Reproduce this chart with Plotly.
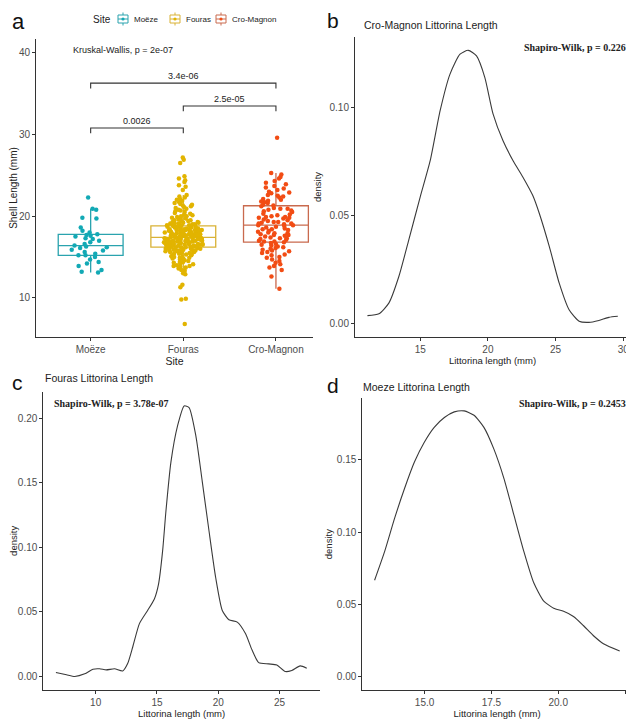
import plotly.graph_objects as go

OFF = 8                     # page body margin of the html page
W, H = 626, 712

# ---------------- data ----------------
sites = ["Moëze", "Fouras", "Cro-Magnon"]
point_colors = ["#12A9B5", "#E2B400", "#F24C14"]
box_colors = ["#2AA3AE", "#D9B236", "#C96A4E"]

moeze_len = [13.1, 13.2, 13.4, 13.9, 14.2, 14.4, 14.7, 15.0, 15.2, 15.2, 15.4, 15.6,
             15.8, 15.9, 16.1, 16.2, 16.3, 16.4, 16.6, 16.8, 17.0, 17.2, 17.3, 17.5,
             17.6, 17.7, 17.8, 18.0, 18.2, 18.6, 19.7, 19.8, 20.8, 20.9, 22.3]

fouras_len = [6.8, 9.8, 9.9, 11.3, 11.6, 12.9,
              13.0, 13.3, 13.4, 13.6, 13.7, 13.8, 13.9, 13.9,
              14.0, 14.1, 14.2, 14.3, 14.4, 14.4, 14.5, 14.6, 14.7, 14.8, 14.8, 14.9, 14.9,
              15.0, 15.0, 15.1, 15.2, 15.2, 15.3, 15.3, 15.4, 15.4, 15.5,
              15.5, 15.6, 15.6, 15.6, 15.7, 15.7, 15.7, 15.8, 15.8, 15.8, 15.9, 15.9, 15.9, 15.9, 16.0, 16.0,
              16.0, 16.1, 16.1, 16.1, 16.2, 16.2, 16.2, 16.2, 16.3, 16.3, 16.3, 16.3, 16.4, 16.4, 16.4, 16.4,
              16.5, 16.5, 16.5, 16.5, 16.5,
              16.6, 16.6, 16.6, 16.6, 16.7, 16.7, 16.7, 16.7, 16.7, 16.8, 16.8, 16.8, 16.8, 16.8,
              16.9, 16.9, 16.9, 16.9, 16.9, 17.0, 17.0, 17.0, 17.0,
              17.1, 17.1, 17.1, 17.1, 17.1, 17.2, 17.2, 17.2, 17.2, 17.2, 17.3, 17.3, 17.3, 17.3, 17.3,
              17.4, 17.4, 17.4, 17.4, 17.4, 17.5, 17.5, 17.5, 17.5,
              17.6, 17.6, 17.6, 17.6, 17.6, 17.7, 17.7, 17.7, 17.7, 17.7, 17.8, 17.8, 17.8, 17.8, 17.8,
              17.9, 17.9, 17.9, 17.9, 18.0, 18.0, 18.0, 18.0,
              18.1, 18.1, 18.1, 18.1, 18.2, 18.2, 18.2, 18.2, 18.3, 18.3, 18.3, 18.3, 18.4, 18.4, 18.4, 18.4,
              18.5, 18.5, 18.5, 18.5,
              18.6, 18.6, 18.6, 18.7, 18.7, 18.7, 18.8, 18.8, 18.8, 18.9, 18.9, 18.9, 19.0, 19.0, 19.0,
              19.1, 19.1, 19.1, 19.2, 19.2, 19.3, 19.3, 19.4, 19.4, 19.5, 19.5,
              19.6, 19.7, 19.7, 19.8, 19.9, 20.0, 20.0,
              20.1, 20.2, 20.3, 20.4, 20.5, 20.6, 20.7, 20.8, 20.9, 21.0,
              21.1, 21.2, 21.3, 21.4, 21.5, 21.6, 21.7, 21.9, 22.0, 22.1, 22.3, 22.4, 22.6,
              23.2, 23.6, 23.8, 24.2, 24.4, 24.6, 24.9, 26.5, 26.9, 27.2]

cromagnon_len = [11.1, 12.6, 13.4, 13.7, 13.9, 14.1, 14.3, 14.5, 14.7, 14.9,
                 15.0, 15.2, 15.3, 15.5, 15.6, 15.7, 15.8, 15.9,
                 16.0, 16.1, 16.2, 16.3, 16.4, 16.5, 16.6, 16.7, 16.8, 16.9, 16.9,
                 17.0, 17.1, 17.2, 17.3, 17.3, 17.4, 17.5, 17.6, 17.7, 17.7, 17.8, 17.9, 17.9,
                 18.0, 18.1, 18.2, 18.3, 18.4, 18.4, 18.5, 18.6, 18.7, 18.8, 18.9, 18.9,
                 19.0, 19.1, 19.1, 19.2, 19.3, 19.3, 19.4, 19.5, 19.6, 19.7, 19.8, 19.8, 19.9, 19.9,
                 20.0, 20.1, 20.2, 20.3, 20.5, 20.6, 20.7, 20.8, 20.9, 20.9,
                 21.0, 21.2, 21.3, 21.4, 21.6, 21.7, 21.8, 21.9,
                 22.0, 22.1, 22.3, 22.4, 22.5, 22.6, 22.8, 22.9,
                 23.0, 23.2, 23.4, 23.5, 23.7, 23.9,
                 24.1, 24.3, 24.6, 24.8, 25.1, 25.3, 29.6]

site_lengths = [moeze_len, fouras_len, cromagnon_len]

kruskal_label = "Kruskal-Wallis, p = 2e-07"
comparisons = [("Moëze", "Fouras", "0.0026"),
               ("Fouras", "Cro-Magnon", "2.5e-05"),
               ("Moëze", "Cro-Magnon", "3.4e-06")]

# density curves
cm_x = [11.1, 11.95, 12.68, 13.42, 14.15, 15.0, 15.74, 16.47, 17.2, 17.94, 18.55, 19.16,
        19.77, 20.38, 21.11, 21.85, 22.58, 23.31, 23.8, 24.54, 25.27, 26.0, 26.74, 27.47,
        28.2, 28.94, 29.6]
cm_d = [0.0037, 0.0046, 0.0095, 0.0218, 0.0386, 0.0586, 0.0754, 0.0984, 0.1153, 0.1245,
        0.1263, 0.1237, 0.1138, 0.0969, 0.0846, 0.0754, 0.0678, 0.0593, 0.0509, 0.0356,
        0.0187, 0.0064, 0.0011, 0.0006, 0.0015, 0.0029, 0.0034]

fo_x = [6.76, 7.62, 8.3, 9.11, 9.78, 10.32, 10.87, 11.54, 12.21, 12.62, 13.03, 13.57,
        14.24, 14.79, 15.13, 15.46, 15.73, 16.14, 16.68, 17.22, 17.62, 18.17, 18.7, 19.25,
        19.79, 20.33, 20.87, 21.55, 22.22, 22.76, 23.3, 24.11, 24.78, 25.46, 26.0, 26.68, 27.22]
fo_d = [0.0031, 0.0013, 0.0, 0.002, 0.0056, 0.0059, 0.0051, 0.0059, 0.0043, 0.0102, 0.023,
        0.0409, 0.0511, 0.06, 0.0715, 0.097, 0.1277, 0.166, 0.194, 0.2095, 0.2082, 0.1865,
        0.1507, 0.1124, 0.0766, 0.0511, 0.0439, 0.0421, 0.0332, 0.0204, 0.0107, 0.0097,
        0.0089, 0.0038, 0.0046, 0.0082, 0.0064]

mo_x = [13.13, 13.51, 13.88, 14.25, 14.62, 14.99, 15.36, 15.74, 16.11, 16.48, 16.85, 17.22,
        17.59, 17.97, 18.34, 18.71, 19.08, 19.45, 19.83, 20.2, 20.57, 20.94, 21.31, 21.69, 22.3]
mo_d = [0.0667, 0.0868, 0.1096, 0.1301, 0.1484, 0.1621, 0.1724, 0.1792, 0.1831, 0.1838,
        0.1808, 0.1724, 0.1575, 0.137, 0.1119, 0.0868, 0.0651, 0.0525, 0.0473, 0.0452,
        0.0416, 0.0354, 0.0285, 0.0228, 0.0178]

shapiro_cm = "Shapiro-Wilk, p = 0.226"
shapiro_fo = "Shapiro-Wilk, p = 3.78e-07"
shapiro_mo = "Shapiro-Wilk, p = 0.2453"

# ---------------- figure ----------------
def fx(px):
    return (px - OFF) / W

def fy(py):
    return 1 - (py - OFF) / H

SANS = "Liberation Sans, Arial, sans-serif"
SERIF = "Liberation Serif, Times New Roman, serif"
AX = "#333333"
TXT = "#4d4d4d"

fig = go.Figure()

# panel a: boxes with jittered points
for name, vals, pc, bc in zip(sites, site_lengths, point_colors, box_colors):
    fig.add_trace(go.Box(
        x=[name] * len(vals), y=vals, name=name,
        boxpoints="all", jitter=0.6, pointpos=0, width=0.7, whiskerwidth=0,
        fillcolor="rgba(255,255,255,0)", line=dict(color=bc, width=1.3),
        marker=dict(color=pc, size=4.5, opacity=1),
        xaxis="x", yaxis="y", showlegend=False))

# comparison brackets
bracket_y = [30.8, 33.5, 36.3]
leg = 0.65
for (a, b, lab), by in zip(comparisons, bracket_y):
    fig.add_trace(go.Scatter(x=[a, a, b, b], y=[by - leg, by, by, by - leg],
                             mode="lines", line=dict(color=AX, width=1.1),
                             xaxis="x", yaxis="y", showlegend=False, hoverinfo="skip"))

line_kw = dict(mode="lines", line=dict(color="#3a3a3a", width=1.1, shape="spline", smoothing=0.6),
               showlegend=False)
fig.add_trace(go.Scatter(x=cm_x, y=cm_d, xaxis="x2", yaxis="y2", **line_kw))
fig.add_trace(go.Scatter(x=fo_x, y=fo_d, xaxis="x3", yaxis="y3", **line_kw))
fig.add_trace(go.Scatter(x=mo_x, y=mo_d, xaxis="x4", yaxis="y4", **line_kw))

def axis(domain, rng, **kw):
    d = dict(domain=domain, range=rng, showline=True, linecolor=AX, linewidth=1,
             ticks="outside", ticklen=3, tickcolor=AX, tickwidth=1,
             showgrid=False, zeroline=False, tickfont=dict(family=SANS, size=10, color=TXT),
             title_font=dict(family=SANS, size=9.5, color="#222"))
    d.update(kw)
    return d

fig.update_layout(
    width=W, height=H, margin=dict(l=0, r=0, t=0, b=0),
    paper_bgcolor="white", plot_bgcolor="white",
    boxmode="overlay", showlegend=False,
    xaxis=axis([fx(36), fx(313)], [-0.59, 2.4], type="category",
               categoryorder="array", categoryarray=sites, anchor="y",
               title=dict(text="Site", standoff=2, font=dict(size=10.5))),
    yaxis=axis([fy(337), fy(39)], [5.2, 41.7], anchor="x", tickvals=[10, 20, 30, 40],
               title=dict(text="Shell Length (mm)", standoff=4, font=dict(size=10))),
    xaxis2=axis([fx(355), fx(630)], [10.18, 30.5], anchor="y2", tickvals=[15, 20, 25, 30],
                title=dict(text="Littorina length (mm)", standoff=3)),
    yaxis2=axis([fy(337.3), fy(36.7)], [-0.0063, 0.1326], anchor="x2",
                tickvals=[0, 0.05, 0.10], tickformat=".2f",
                title=dict(text="density", standoff=6)),
    xaxis3=axis([fx(43.3), fx(320)], [5.73, 28.3], anchor="y3", tickvals=[10, 15, 20, 25],
                title=dict(text="Littorina length (mm)", standoff=3)),
    yaxis3=axis([fy(690), fy(391.7)], [-0.0105, 0.2205], anchor="x3",
                tickvals=[0, 0.05, 0.10, 0.15, 0.20], tickformat=".2f",
                title=dict(text="density", standoff=2)),
    xaxis4=axis([fx(362.3), fx(632)], [12.67, 22.76], anchor="y4",
                tickvals=[15.0, 17.5, 20.0, 22.5], tickformat=".1f",
                title=dict(text="Littorina length (mm)", standoff=3)),
    yaxis4=axis([fy(690), fy(398.3)], [-0.0092, 0.1925], anchor="x4",
                tickvals=[0, 0.05, 0.10, 0.15], tickformat=".2f",
                title=dict(text="density", standoff=2)),
)

ann = []
def txt(text, x, y, size, family=SANS, xanchor="left", yanchor="middle", color="#222", **kw):
    ann.append(dict(text=text, x=x, y=y, xref="paper", yref="paper", showarrow=False,
                    xanchor=xanchor, yanchor=yanchor,
                    font=dict(family=family, size=size, color=color), **kw))

# legend (key for the sites of panel a)
shapes = []
txt("Site", fx(91), fy(19), 10)
key_x = [123, 175, 221]
for name, px, pc, bc in zip(sites, key_x, point_colors, box_colors):
    cy = 19
    shapes.append(dict(type="line", xref="paper", yref="paper", x0=fx(px), x1=fx(px),
                       y0=fy(cy - 6.5), y1=fy(cy + 6.5), line=dict(color=bc, width=1)))
    shapes.append(dict(type="rect", xref="paper", yref="paper", x0=fx(px - 5), x1=fx(px + 5),
                       y0=fy(cy - 4), y1=fy(cy + 4), fillcolor="white",
                       line=dict(color=bc, width=1)))
    shapes.append(dict(type="line", xref="paper", yref="paper", x0=fx(px - 5), x1=fx(px + 5),
                       y0=fy(cy), y1=fy(cy), line=dict(color=bc, width=1)))
    shapes.append(dict(type="circle", xref="paper", yref="paper", x0=fx(px - 1.6), x1=fx(px + 1.6),
                       y0=fy(cy - 1.6), y1=fy(cy + 1.6), fillcolor=pc, line=dict(width=0)))
    txt(name, fx(px + 9), fy(cy), 8)

# panel letters
txt("a", fx(18), fy(22), 22, xanchor="center", color="#111")
txt("b", fx(333), fy(20), 21, xanchor="center", color="#111")
txt("c", fx(17), fy(382), 21, xanchor="center", color="#111")
txt("d", fx(333), fy(385), 21, xanchor="center", color="#111")

# panel titles
txt("Cro-Magnon Littorina Length", fx(362), fy(25), 10.5)
txt("Fouras Littorina Length", fx(43), fy(378), 10.5)
txt("Moeze Littorina Length", fx(361), fy(387), 10.5)

# statistics
txt(kruskal_label, fx(71), fy(50), 9)
txt("<b>" + shapiro_cm + "</b>", fx(628), fy(47), 10, family=SERIF, xanchor="right")
txt("<b>" + shapiro_fo + "</b>", fx(52), fy(403), 10, family=SERIF)
txt("<b>" + shapiro_mo + "</b>", fx(628), fy(403), 10, family=SERIF, xanchor="right")

# bracket labels
for (a, b, lab), by in zip(comparisons, bracket_y):
    mid = (sites.index(a) + sites.index(b)) / 2
    ann.append(dict(text=lab, x=mid, y=by, xref="x", yref="y", showarrow=False,
                    yanchor="bottom", yshift=0,
                    font=dict(family=SANS, size=9, color="#222")))

fig.update_layout(annotations=ann, shapes=shapes)
fig.write_html("out.html")
